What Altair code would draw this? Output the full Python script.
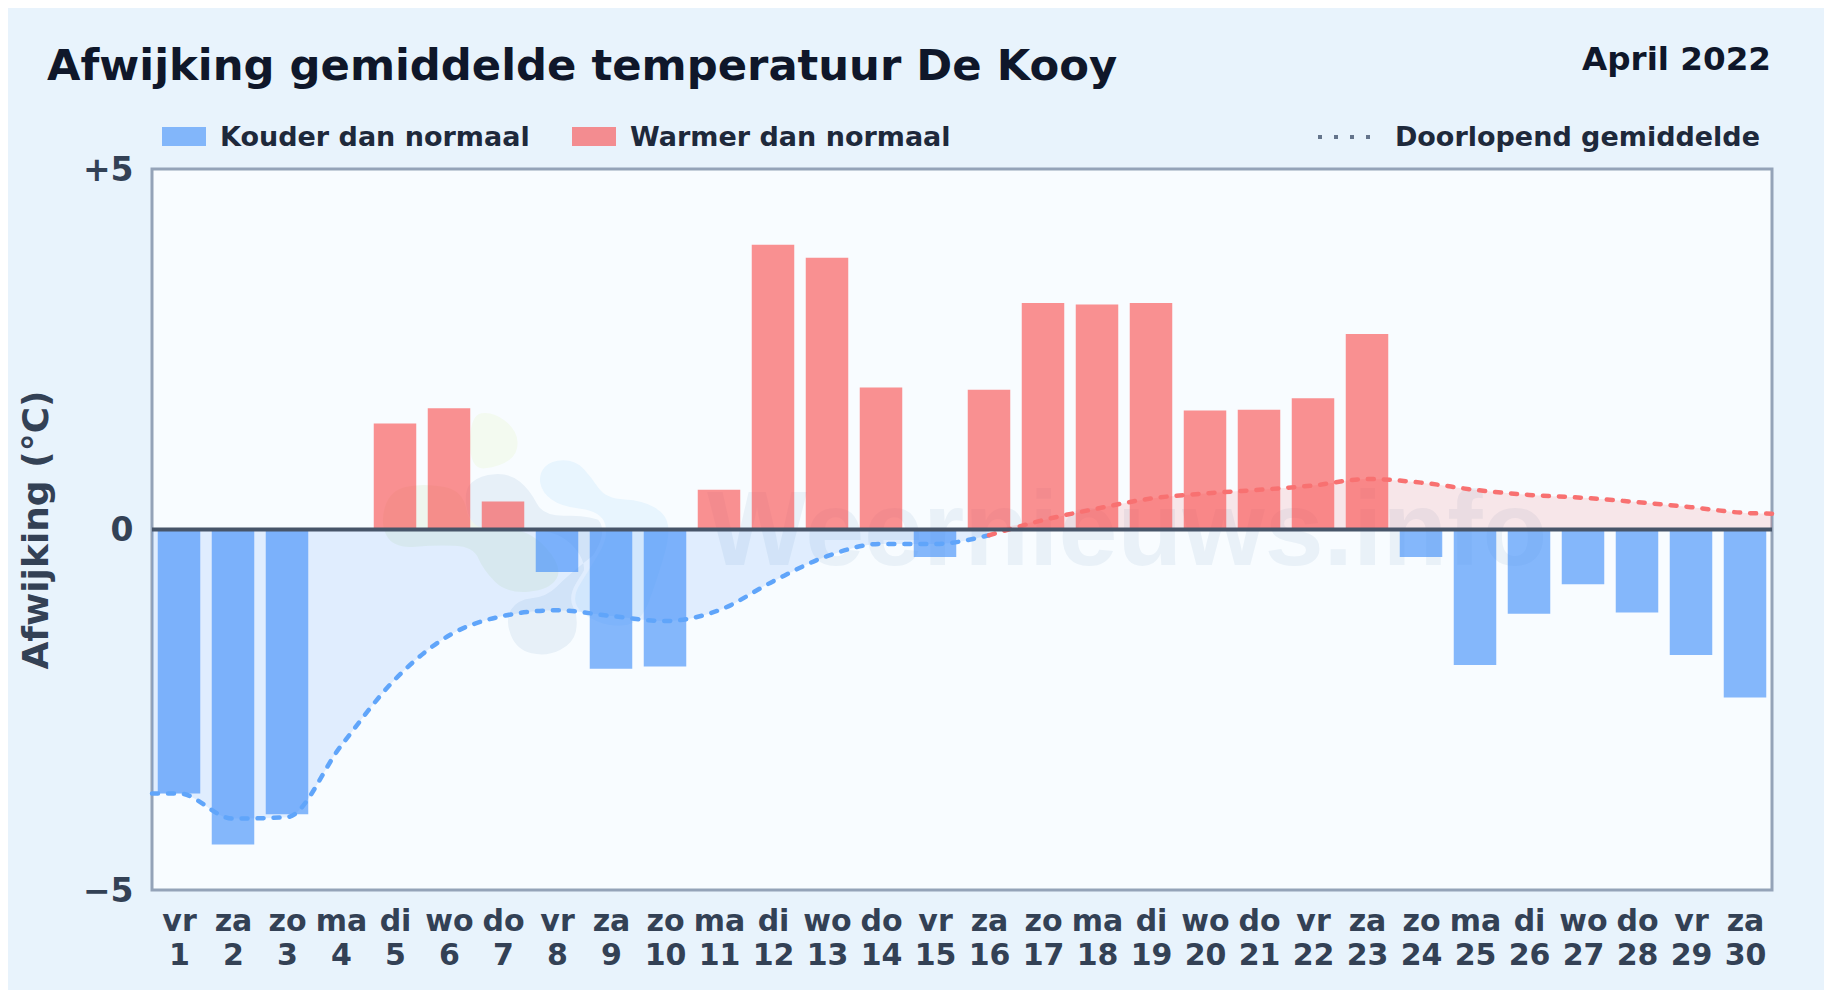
import altair as alt
import pandas as pd

FONT = "DejaVu Sans"
weekdays = ["vr","za","zo","ma","di","wo","do","vr","za","zo","ma","di","wo","do","vr",
            "za","zo","ma","di","wo","do","vr","za","zo","ma","di","wo","do","vr","za"]
days = list(range(1, 31))
anomaly = [-3.66,-4.37,-3.95,0.0,1.47,1.68,0.39,-0.59,-1.93,-1.90,0.55,3.95,3.77,1.97,-0.38,
           1.94,3.14,3.12,3.14,1.65,1.66,1.82,2.71,-0.38,-1.88,-1.17,-0.76,-1.15,-1.74,-2.33]
cold_days = [0.5,1,2,3,4,5,6,7,8,9,10,11,12,13,14,15,16]
cold_mean = [-3.66,-3.66,-4.01,-3.99,-3.0,-2.08,-1.47,-1.2,-1.12,-1.2,-1.27,-1.12,-0.72,-0.37,-0.2,-0.2,-0.08]
warm_days = [16,17,18,19,20,21,22,23,24,25,26,27,28,29,30,30.5]
warm_mean = [-0.08,0.13,0.29,0.43,0.5,0.55,0.61,0.7,0.65,0.55,0.48,0.44,0.38,0.31,0.23,0.22]

df_bars = pd.DataFrame({"day": days, "value": anomaly,
                        "kind": ["warm" if v > 0 else "cold" for v in anomaly]})
df_bars = df_bars[df_bars.value != 0]
df_cold = pd.DataFrame({"day": cold_days, "mean": cold_mean})
df_warm = pd.DataFrame({"day": warm_days, "mean": warm_mean})
df_warm_area = df_warm.assign(mean=df_warm["mean"].clip(lower=0))

x_scale = alt.Scale(domain=[0.5, 30.5], nice=False, zero=False, padding=0)
y_scale = alt.Scale(domain=[-5, 5], nice=False)
label_expr = "[" + repr(weekdays) + "[datum.value-1], '' + datum.value]"
x_axis = alt.Axis(values=days, labelExpr=label_expr, title=None, domain=False, ticks=False, grid=False,
                  labelFontSize=30, labelFontWeight="bold", labelFont=FONT, labelColor="#334155",
                  labelPadding=16, labelLineHeight=34, labelOverlap=False, labelFlush=False,
                  labelBound=False, labelAngle=0)
y_axis = alt.Axis(values=[-5, 0, 5], labelExpr="datum.value > 0 ? '+5' : datum.value < 0 ? '\u22125' : '0'",
                  title="Afwijking (°C)", titleFontSize=36, titleFontWeight="bold", titleFont=FONT,
                  titleColor="#334155", titleX=-97, domain=False, ticks=False, grid=False,
                  labelFontSize=33, labelFontWeight="bold", labelFont=FONT, labelColor="#334155",
                  labelPadding=19, labelFlush=False, labelBound=False, labelOffset=1)
X = alt.X("day:Q", scale=x_scale, axis=x_axis)
Y = alt.Y("mean:Q", scale=y_scale, axis=y_axis)

def blob(zoom_points):
    pts = [(360 + a / 3 - 152, 390 + b / 3 - 169) for a, b in zoom_points]
    n = len(pts)
    mid = lambda p, q: ((p[0] + q[0]) / 2, (p[1] + q[1]) / 2)
    s = mid(pts[-1], pts[0])
    d = f"M{s[0]:.1f},{s[1]:.1f}"
    for i in range(n):
        m = mid(pts[i], pts[(i + 1) % n])
        d += f"Q{pts[i][0]:.1f},{pts[i][1]:.1f},{m[0]:.1f},{m[1]:.1f}"
    return d + "Z"

sun_shape = [(330,75),(400,65),(470,120),(475,190),(420,230),(330,240)]
green_shape = [(60,400),(90,300),(190,280),(310,300),(330,420),(500,410),(610,530),(570,600),(440,610),
               (370,540),(340,470),(230,465),(100,475)]
grey_shape = [(310,300),(360,255),(450,250),(510,300),(550,380),(690,375),(780,420),(720,480),(620,560),
              (560,620),(470,630),(435,690),(470,780),(560,800),(640,760),(655,690),(630,610),(690,530),
              (600,420),(420,420),(330,410)]
sky_shape = [(530,250),(570,205),(650,205),(700,260),(740,320),(850,325),(925,370),(935,440),(900,560),
             (850,700),(760,720),(660,680),(630,620),(680,540),(740,440),(720,370),(600,355),(540,310)]

def watermark(path, fill, stroke=None):
    mark = dict(shape=path, filled=True, size=4, fill=fill, opacity=1, clip=False)
    if stroke:
        mark.update(stroke=stroke, strokeWidth=4)
    return alt.Chart(pd.DataFrame({"name": ["logo"]})).mark_point(**mark).encode(x=alt.value(0), y=alt.value(0))

def page_text(text, x, y, size, color, align="left"):
    return alt.Chart(pd.DataFrame({"t": [text]})).mark_text(
        font=FONT, fontWeight="bold", fontSize=size, color=color, align=align, baseline="alphabetic"
    ).encode(text="t:N", x=alt.value(x - 152), y=alt.value(y - 169))

def swatch(x0, x1, color, opacity):
    return alt.Chart(pd.DataFrame({"name": ["key"]})).mark_rect(color=color, opacity=opacity).encode(
        x=alt.value(x0 - 152), x2=alt.value(x1 - 152), y=alt.value(127 - 169), y2=alt.value(146 - 169))

wm_text = alt.Chart(pd.DataFrame({"t": ["Weernieuws.info"]})).mark_text(
    font="Liberation Sans", fontWeight="bold", fontSize=106, color="#e9f1f8", align="left", baseline="alphabetic"
).encode(text="t:N", x=alt.value(707 - 152), y=alt.value(565 - 169))

cold_area = alt.Chart(df_cold).mark_area(color="#3b8ef6", opacity=0.13, interpolate="monotone").encode(
    x=X, y=Y, y2=alt.datum(0))
warm_area = alt.Chart(df_warm_area).mark_area(color="#fa4848", opacity=0.12, interpolate="monotone").encode(
    x=X, y=Y, y2=alt.datum(0))
bars = alt.Chart(df_bars).mark_bar(size=42.5, clip=False).encode(
    x=X, y=alt.Y("value:Q", scale=y_scale, axis=y_axis),
    color=alt.Color("kind:N", scale=alt.Scale(domain=["cold", "warm"], range=["#3e8df9", "#fa4848"]), legend=None),
    opacity=alt.Opacity("kind:N", scale=alt.Scale(domain=["cold", "warm"], range=[0.62, 0.6]), legend=None))
line_style = dict(strokeWidth=4.5, strokeDash=[6, 10], strokeCap="round", interpolate="monotone")
cold_line = alt.Chart(df_cold).mark_line(color="#60a5fa", **line_style).encode(x=X, y=Y)
warm_line = alt.Chart(df_warm).mark_line(color="#f87171", **line_style).encode(x=X, y=Y)
zero = alt.Chart(pd.DataFrame({"v": [0]})).mark_rule(color="#475569", strokeWidth=4).encode(
    y=alt.Y("v:Q", scale=y_scale, axis=y_axis))
key_line = alt.Chart(pd.DataFrame({"name": ["key"]})).mark_rule(
    color="#64748b", strokeWidth=4, strokeDash=[4, 12]).encode(
    x=alt.value(1318 - 152), x2=alt.value(1372 - 152), y=alt.value(137 - 169))

chart = alt.layer(
    watermark(blob(sun_shape), "#f3faf0"),
    watermark(blob(green_shape), "#eef6ee"),
    watermark(blob(grey_shape), "#e7f0f8"),
    watermark(blob(sky_shape), "#e8f5fe", "#f8fcff"),
    wm_text, cold_area, warm_area, bars, cold_line, warm_line, zero,
    page_text("Afwijking gemiddelde temperatuur De Kooy", 47, 80, 43.3, "#0f172a"),
    page_text("April 2022", 1771, 70, 32.6, "#0f172a", "right"),
    swatch(162, 206, "#3e8df9", 0.6),
    page_text("Kouder dan normaal", 220, 146, 27, "#1e293b"),
    swatch(572, 616, "#fa4848", 0.6),
    page_text("Warmer dan normaal", 630, 146, 27, "#1e293b"),
    key_line,
    page_text("Doorlopend gemiddelde", 1760, 146, 27, "#1e293b", "right"),
).properties(
    width=1620, height=721,
    background="#e8f3fc",
    padding={"left": 144, "top": 161, "right": 52, "bottom": 100},
    autosize=alt.AutoSizeParams(type="none"),
).resolve_scale(color="independent", opacity="independent").configure_view(
    fill="#f8fcff", stroke="#94a3b8", strokeWidth=3)

chart.save("out.html", embed_options={"renderer": "svg", "actions": False})
